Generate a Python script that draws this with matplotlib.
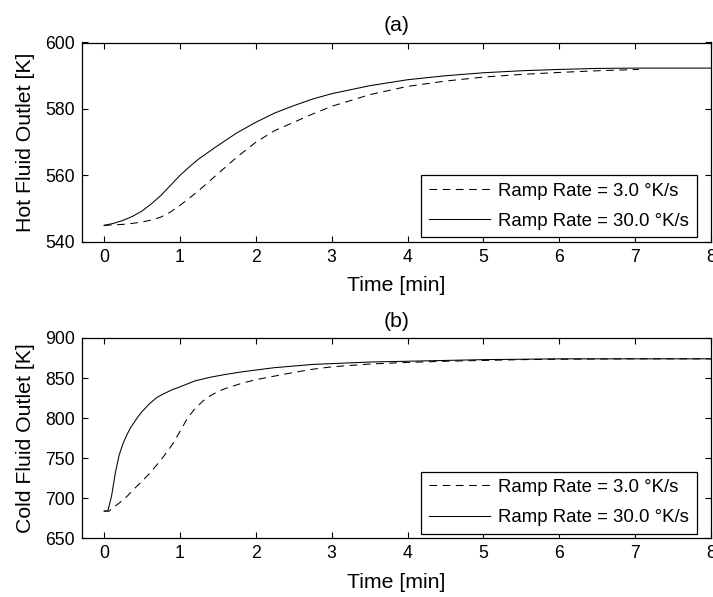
import matplotlib
matplotlib.use("Agg")
import matplotlib.pyplot as plt

plt.rcParams['font.family'] = ['Liberation Sans', 'DejaVu Sans']
plt.rcParams['lines.scale_dashes'] = False

# ---- data ----
hot_t_fast = [0, 0.125, 0.25, 0.375, 0.5, 0.625, 0.75, 0.875, 1.0, 1.125, 1.25, 1.375, 1.5,
              1.75, 2.0, 2.25, 2.5, 2.75, 3.0, 3.5, 4.0, 4.5, 5.0, 5.5, 6.0, 6.5, 7.0, 7.5, 8.0]
hot_v_fast = [545, 545.6, 546.5, 547.7, 549.3, 551.5, 554, 557, 560, 562.6, 565, 567, 569,
              572.8, 576, 578.8, 581, 583, 584.6, 587, 588.8, 590, 590.9, 591.5, 591.9, 592.2,
              592.3, 592.3, 592.3]
hot_t_slow = [0, 0.25, 0.375, 0.5, 0.625, 0.75, 0.875, 1.0, 1.125, 1.25, 1.5, 1.75, 2.0, 2.25,
              2.5, 2.75, 3.0, 3.5, 4.0, 4.5, 5.0, 5.5, 6.0, 6.5, 7.05]
hot_v_slow = [545, 545.3, 545.6, 546, 546.6, 547.5, 549, 551, 553.2, 555.5, 560.5, 565.5, 570,
              573.5, 576, 578.5, 580.8, 584.3, 586.8, 588.4, 589.6, 590.4, 591, 591.5, 591.9]

cold_t_fast = [0, 0.05, 0.1, 0.15, 0.2, 0.25, 0.3, 0.35, 0.4, 0.45, 0.5, 0.6, 0.7, 0.8, 0.9,
               1.0, 1.2, 1.4, 1.6, 1.8, 2.0, 2.25, 2.5, 2.75, 3.0, 3.5, 4.0, 4.5, 5.0, 5.5,
               6.0, 7.0, 8.0]
cold_v_fast = [684, 684, 703, 732, 754, 768, 779, 788, 795, 802, 808, 818, 826, 831, 835.5,
               839, 846.5, 851, 854.5, 857.5, 860, 863, 865, 867, 868, 870, 871, 872, 873, 873.5,
               874, 874, 874]
cold_t_slow = [0, 0.07, 0.1, 0.2, 0.3, 0.4, 0.5, 0.6, 0.7, 0.8, 0.9, 1.0, 1.1, 1.2, 1.3, 1.4,
               1.5, 1.6, 1.8, 2.0, 2.25, 2.5, 2.75, 3.0, 3.5, 4.0, 4.5, 5.0, 5.5, 6.0, 7.0, 8.0]
cold_v_slow = [684, 684, 687, 694, 702, 712, 721, 731, 742, 754, 767, 783, 800, 812, 821, 828,
               833, 837, 843, 848, 852.5, 857, 861, 864, 867.5, 869.5, 871, 872, 873, 873.5,
               874, 874]

labels = ['Ramp Rate = 3.0 \u00b0K/s', 'Ramp Rate = 30.0 \u00b0K/s']
x_ticks = [0, 1, 2, 3, 4, 5, 6, 7, 8]
hot_ticks = [540, 560, 580, 600]
cold_ticks = [650, 700, 750, 800, 850, 900]

W, H = 713, 597
fig = plt.figure(figsize=(W / 100, H / 100), dpi=100)

def px_axes(l, t, r, b):
    return fig.add_axes([l / W, 1 - b / H, (r - l) / W, (b - t) / H])

ax1 = px_axes(82, 42.5, 711, 242)
ax2 = px_axes(82, 338, 711, 538.3)

TICK_FS = 12.7
LAB_FS = 15.3
LEG_FS = 13.4

def style(ax, yticks, ylabel, title, ylim):
    ax.set_xlim(-0.29, 8)
    ax.set_ylim(*ylim)
    ax.set_xticks(x_ticks)
    ax.set_yticks(yticks)
    ax.tick_params(direction='in', length=4.3, width=0.8, top=True, right=True,
                   labelsize=TICK_FS, pad=5, colors='black')
    for s in ax.spines.values():
        s.set_linewidth(0.9)
        s.set_color('black')
    ax.set_xlabel('Time [min]', fontsize=LAB_FS)
    ax.xaxis.set_label_coords(0.5, -0.219)
    ax.xaxis.label.set_va('center')
    ax.set_ylabel(ylabel, fontsize=LAB_FS)
    ax.yaxis.set_label_coords(-0.0906, 0.5)
    ax.yaxis.label.set_va('center')
    ax.set_title(title, fontsize=LAB_FS, pad=8)

ax1.plot(hot_t_slow, hot_v_slow, color='black', lw=0.75, dashes=(5.5, 4), label=labels[0])
ax1.plot(hot_t_fast, hot_v_fast, color='black', lw=0.75, label=labels[1])
style(ax1, hot_ticks, 'Hot Fluid Outlet [K]', '(a)', (540, 600))

ax2.plot(cold_t_slow, cold_v_slow, color='black', lw=0.75, dashes=(5.5, 4), label=labels[0])
ax2.plot(cold_t_fast, cold_v_fast, color='black', lw=0.75, label=labels[1])
style(ax2, cold_ticks, 'Cold Fluid Outlet [K]', '(b)', (650, 900))

for ax, b_px, ax_b, ax_h in [(ax1, 237, 242, 199.5), (ax2, 533.5, 538.3, 200.3)]:
    leg = ax.legend(loc='lower right', bbox_to_anchor=((696.7 - 82) / 629, (ax_b - b_px) / ax_h),
                    borderaxespad=0, fontsize=LEG_FS, frameon=True, fancybox=False,
                    edgecolor='black', framealpha=1, borderpad=0.4, labelspacing=0.7,
                    handlelength=3.3, handletextpad=0.45)
    leg.get_frame().set_linewidth(0.9)

fig.savefig('out.png', dpi=100)
